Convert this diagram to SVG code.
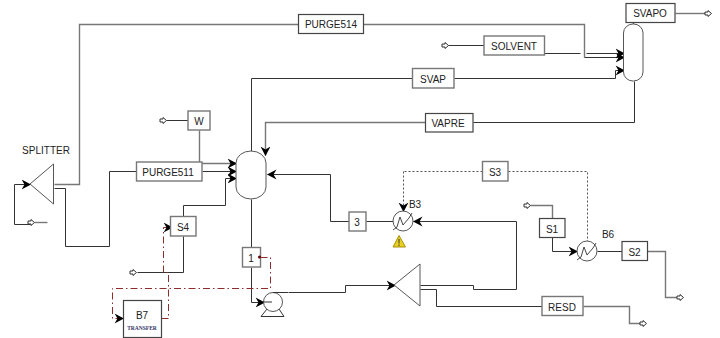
<svg xmlns="http://www.w3.org/2000/svg" xmlns:xlink="http://www.w3.org/1999/xlink" width="720" height="338" viewBox="0 0 720 338">
<style>
text{font-family:"Liberation Sans",Arial,sans-serif;font-size:10px;fill:#222;text-anchor:middle}
.box{fill:#fff;stroke:#444;stroke-width:1.2}
.b2{fill:#fff;stroke:#777;stroke-width:1.4}
.sh{fill:#fff;stroke:#444;stroke-width:.9}
.c{fill:none;stroke:#333;stroke-width:1}
.g{fill:none;stroke:#777;stroke-width:1.4}
.d{fill:none;stroke:#555;stroke-width:1;stroke-dasharray:2 2}
.r{fill:none;stroke:#8e2c2c;stroke-width:1;stroke-dasharray:7 3 1.5 3}
.a{marker-end:url(#ah)}
</style>
<defs>
<marker id="ah" markerUnits="userSpaceOnUse" markerWidth="11" markerHeight="11" refX="9" refY="5.5" orient="auto"><path d="M0 .5 L9.500 5.500 L0 10.500 L3 5.500Z" fill="#000"/></marker>
<path id="feed" d="M-3.500 -1.500H-.5V-3L3 0L-.5 3V1.500H-3.500Z" fill="#fff" stroke="#333" stroke-width="1"/>
<path id="zig" d="M-10 9L-6 6L-3 -4L0 4L6 -3L9 -8" fill="none" stroke="#333" stroke-width=".9"/>
</defs>
<g id="connectors" transform="translate(.5 .5)">
<path class="g" d="M54 184H79V24H298"/>
<path class="g" d="M363 24H584V57"/>
<path class="c a" d="M584 57H624"/>
<path class="c" d="M484 45H448"/>
<path class="c" d="M544 53H580"/>
<path class="c a" d="M586 53H624"/>
<path class="c" d="M251 152V78H412"/>
<path class="c a" d="M454 78H615V70H624"/>
<path class="g a" d="M425 122H265V155"/>
<path class="c" d="M473 122H634V81"/>
<path class="g" d="M633 24V22"/>
<path class="g" d="M675 13H706"/>
<path class="g a" d="M199 163H236"/>
<path class="g" d="M199 130V163"/>
<path class="c" d="M188 120H166"/>
<path class="c a" d="M202 171H236"/>
<path class="c" d="M136 171H109V246H65V188H54"/>
<path class="c a" d="M183 216V205H225V178H236"/>
<path class="c" d="M183 236V272H137"/>
<path class="c a" d="M14 184H30"/>
<path class="c" d="M14 184V224H30"/>
<path class="g" d="M34 222H47"/>
<path class="c a" d="M330 174H267"/>
<path class="c" d="M349 221H330V174"/>
<path class="c" d="M366 221H393"/>
<path class="c" d="M251 199V247"/>
<path class="c" d="M251 267V302"/>
<path class="c a" d="M251 302H264"/>
<path class="c" d="M288 292H345V285"/>
<path class="c a" d="M345 285H395"/>
<path class="c a" d="M420 285H473V289H516V221H413"/>
<path class="c" d="M420 289H436V306H542"/>
<path class="g" d="M583 306H629V323H640"/>
<path class="d" d="M482 171H403"/>
<path class="d a" d="M403 171V211"/>
<path class="d" d="M508 171H587V241"/>
<path class="g" d="M552 218V205H530"/>
<path class="c a" d="M552 237V251H577"/>
<path class="c" d="M597 251H622"/>
<path class="g" d="M647 251H665V297H677"/>
<path class="r a" d="M161 318H168V272H163V227H172"/>
<path class="r a" d="M260 257H270V288H112V318H123"/>
<use xlink:href="#feed" href="#feed" x="445" y="45"/>
<use xlink:href="#feed" href="#feed" x="708" y="13"/>
<use xlink:href="#feed" href="#feed" x="163" y="120"/>
<use xlink:href="#feed" href="#feed" x="133" y="272"/>
<use xlink:href="#feed" href="#feed" x="31" y="222"/>
<use xlink:href="#feed" href="#feed" x="527" y="205"/>
<use xlink:href="#feed" href="#feed" x="680" y="297"/>
<use xlink:href="#feed" href="#feed" x="643" y="323"/>
</g>
<g id="PURGE514"><rect class="box" x="298.500" y="14.500" width="65" height="19"/><text x="331" y="28">PURGE514</text></g>
<g id="SOLVENT"><rect class="b2" x="484" y="36" width="60.500" height="19"/><text x="514" y="50">SOLVENT</text></g>
<g id="SVAP"><rect class="b2" x="412.500" y="68.500" width="41.500" height="19.500"/><text x="433" y="82.500">SVAP</text></g>
<g id="VAPRE"><rect class="box" x="425.500" y="113.500" width="47.500" height="18.500"/><text x="448" y="127">VAPRE</text></g>
<g id="SVAPO"><rect class="box" x="626" y="3.500" width="49" height="19"/><text x="650" y="17">SVAPO</text></g>
<g id="COLUMN"><rect class="sh" x="623.500" y="24" width="19.500" height="57" rx="9.500" ry="9"/></g>
<g id="W"><rect class="b2" x="188" y="111" width="22" height="19"/><text x="199" y="125">W</text></g>
<g id="PURGE511"><rect class="b2" x="136.500" y="162" width="65.500" height="19"/><text x="168" y="176">PURGE511</text></g>
<g id="S4"><rect class="b2" x="170.500" y="216.500" width="25.500" height="19.500"/><text x="183" y="231">S4</text></g>
<g id="SPLITTER"><path class="sh" d="M30 184L53.500 164V204Z"/><text x="46" y="154">SPLITTER</text></g>
<g id="VESSEL"><rect class="sh" x="236" y="151" width="30" height="48" rx="15" ry="12"/></g>
<g id="BLOCK3"><rect class="b2" x="349" y="212" width="17" height="19"/><text x="357" y="226">3</text></g>
<g id="BLOCK1"><rect class="b2" x="242.500" y="247.500" width="18" height="19.500"/><text x="251" y="262">1</text><circle cx="259.500" cy="257" r="1.500" fill="#600"/></g>
<g id="PUMP"><path class="c" d="M261 316.500H284M261 316.500L267 309M284 316.500L279 309"/><circle class="sh" cx="273" cy="302" r="9.500"/><path class="c" d="M263 302H272M273 292.500H288"/></g>
<g id="MIXER"><path class="sh" d="M394 285L420 264V306Z"/></g>
<g id="RESD"><rect class="b2" x="542" y="296.500" width="41" height="19"/><text x="562" y="311">RESD</text></g>
<g id="B3"><circle class="sh" cx="403" cy="221" r="10"/><use xlink:href="#zig" href="#zig" x="403" y="221"/><text x="415" y="208">B3</text><path d="M399 235.500L405.500 247H393Z" fill="#e8d020" stroke="#a89010" stroke-width="1"/><path d="M399 239V243.500M399 244.500V246" stroke="#333" stroke-width="1"/></g>
<g id="S3"><rect class="b2" x="482.500" y="161.500" width="25.500" height="19.500"/><text x="495" y="176">S3</text></g>
<g id="S1"><rect class="box" x="539.500" y="218.500" width="25.500" height="19"/><text x="552" y="233">S1</text></g>
<g id="B6"><circle class="sh" cx="587" cy="251" r="10"/><use xlink:href="#zig" href="#zig" x="587" y="251"/><text x="608" y="238">B6</text></g>
<g id="S2"><rect class="box" x="622" y="241.500" width="25.500" height="19"/><text x="634.500" y="256">S2</text></g>
<g id="B7"><rect class="box" x="123.500" y="300.500" width="38" height="37"/><text x="142" y="319">B7</text><text x="142" y="329.500" style="font-family:'Liberation Serif',serif;font-size:5.500px;font-weight:bold;fill:#336">TRANSFER</text></g>
</svg>
